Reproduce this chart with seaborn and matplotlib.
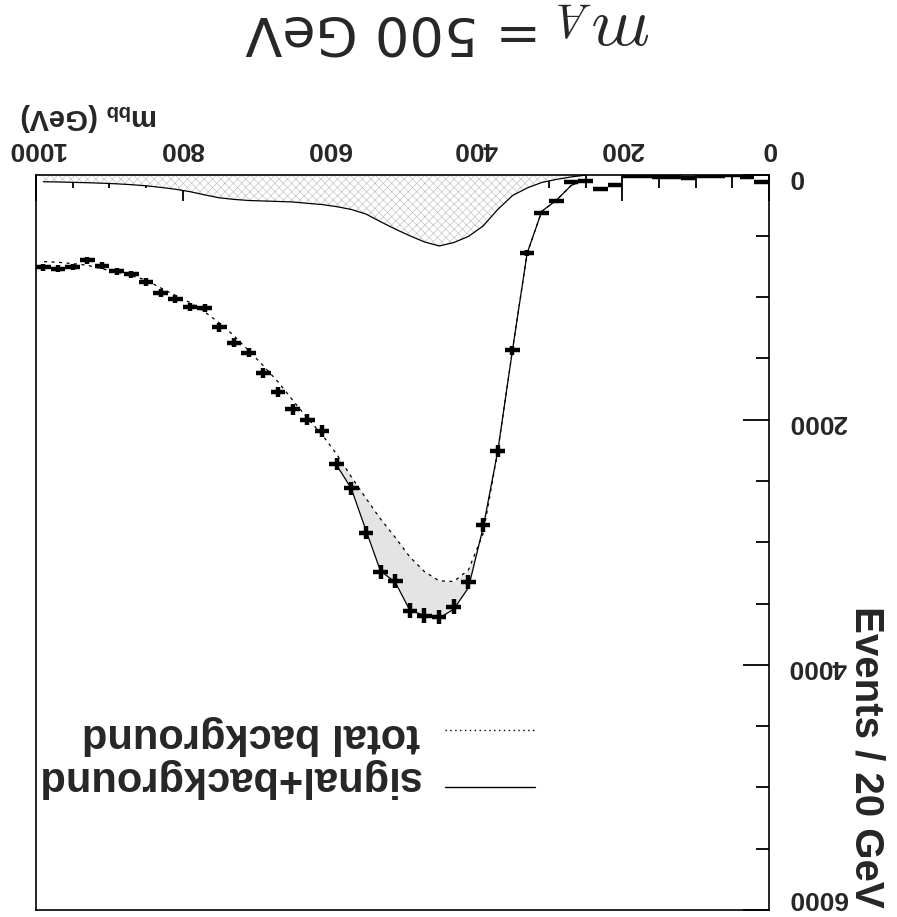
import numpy as np
import pandas as pd
import matplotlib
matplotlib.use("Agg")
import matplotlib.pyplot as plt
import seaborn as sns
from matplotlib.ticker import MultipleLocator
from matplotlib.lines import Line2D

# ---------------- data ----------------
bin_centers = list(range(10, 1000, 20))  # m_bb bin centres (GeV), 20 GeV bins
events = [65, 18, 8, 10, 12, 30, 20, 22, 15, 15,
          88, 118, 50, 62, 219, 314, 643, 1434, 2255, 2859,
          3324, 3525, 3609, 3599, 3558, 3318, 3240, 2922, 2561, 2363,
          2092, 2001, 1915, 1774, 1617, 1454, 1372, 1248, 1091, 1083,
          1013, 966, 877, 812, 790, 744, 700, 754, 768, 757]

curve_mass = list(range(250, 1000, 20))
total_background = [40, 90, 210, 300, 643, 1434, 2255, 2930, 3225, 3320,
                    3315, 3240, 3120, 2960, 2810, 2640, 2465, 2280, 2120, 1985,
                    1840, 1690, 1560, 1435, 1315, 1210, 1120, 1045, 985, 925,
                    860, 825, 795, 770, 740, 727, 716, 711]
signal = [5, 20, 40, 65, 110, 172, 285, 420, 505, 555,
          583, 550, 500, 445, 385, 322, 285, 262, 245, 235,
          224, 220, 216, 212, 203, 190, 166, 140, 120, 105,
          92, 83, 76, 71, 67, 64, 61, 59]
sb_mass = list(range(250, 600, 20))
signal_plus_background = [40, 90, 210, 300, 643, 1434, 2255, 2880, 3370, 3545,
                          3620, 3597, 3555, 3325, 3235, 2900, 2560, 2370]

x_major_ticks = [0, 200, 400, 600, 800, 1000]
y_major_ticks = [0, 2000, 4000, 6000]
title_math = r"$m_A$"
title_rest = "= 500 GeV"
x_label = r"m$_{\mathbf{bb}}$ (GeV)"
y_label = "Events / 20 GeV"
legend_labels = ["total background", "signal+background"]

# ---------------- style ----------------
sns.set_theme(style="white")
plt.rcParams["font.family"] = ["Liberation Sans", "DejaVu Sans"]
plt.rcParams["font.weight"] = "bold"
plt.rcParams["mathtext.fontset"] = "custom"
plt.rcParams["mathtext.rm"] = "Liberation Sans:bold"
plt.rcParams["mathtext.bf"] = "Liberation Sans:bold"
plt.rcParams["mathtext.it"] = "Liberation Sans:bold"
plt.rcParams["hatch.linewidth"] = 0.5

W, H = 897, 917
fig = plt.figure(figsize=(W / 100, H / 100), dpi=100)
L, R, T, B = 36, 769, 174.5, 910
ax = fig.add_axes([L / W, 1 - B / H, (R - L) / W, (B - T) / H])

def fx(px):
    return px / W

def fy(py):
    return 1 - py / H

df = pd.DataFrame({"m": curve_mass, "bkg": total_background, "sig": signal})
df_sb = pd.DataFrame({"m": sb_mass, "sb": signal_plus_background,
                      "bkg": total_background[:len(sb_mass)]})

# signal (hatched)
ax.fill_between(df["m"], 0, df["sig"], facecolor="white", edgecolor="#c4c4c4",
                hatch="xxxx", linewidth=0, zorder=1)
sns.lineplot(data=df, x="m", y="sig", ax=ax, color="black", lw=0.9, zorder=2)

# grey area between total background and signal+background
ax.fill_between(df_sb["m"], df_sb["bkg"], df_sb["sb"], color="#e4e4e4",
                linewidth=0, zorder=1)
sns.lineplot(data=df, x="m", y="bkg", ax=ax, color="black", lw=0.9,
             linestyle=(0, (2.5, 3.5)), zorder=3)
sns.lineplot(data=df_sb, x="m", y="sb", ax=ax, color="black", lw=0.9, zorder=3)

# data points
ev = np.array(events, dtype=float)
ax.errorbar(bin_centers, ev, xerr=10, yerr=np.sqrt(ev), fmt="none",
            ecolor="black", elinewidth=3.2, capsize=0, zorder=5)

# axes
ax.set_xlim(1000, 0)
ax.set_ylim(6000, 0)
ax.set_xlabel("")
ax.set_ylabel("")
ax.xaxis.tick_top()
ax.yaxis.tick_right()
ax.set_xticks(x_major_ticks, labels=[str(t) for t in x_major_ticks],
              rotation=180, fontweight="bold", fontsize=19)
ax.set_yticks(y_major_ticks, labels=[str(t) for t in y_major_ticks],
              rotation=180, fontweight="bold", fontsize=19)
ax.xaxis.set_minor_locator(MultipleLocator(50))
ax.yaxis.set_minor_locator(MultipleLocator(500))
ax.tick_params(which="major", direction="in", length=19, width=1.3, color="black")
ax.tick_params(which="minor", direction="in", length=9.5, width=1.3, color="black")
ax.tick_params(axis="x", which="both", top=True, bottom=False, labeltop=True,
               labelbottom=False, pad=10)
ax.tick_params(axis="y", which="both", right=True, left=False, labelright=True,
               labelleft=False, pad=14)
for s in ax.spines.values():
    s.set_color("black")
    s.set_linewidth(1.2)

# texts (rotated 180 degrees as in the reference)
fig.text(fx(541), fy(31), title_rest, rotation=180, ha="right", va="center",
         fontsize=39, fontweight="normal", family="DejaVu Sans")
fig.text(fx(557), fy(31), title_math, rotation=180, ha="left", va="center",
         fontsize=48, math_fontfamily="cm")
fig.text(fx(20), fy(117), x_label, rotation=180, ha="left", va="center",
         fontsize=21, fontweight="bold")
fig.text(fx(866), fy(908), y_label, rotation=270, ha="center", va="bottom",
         fontsize=29, fontweight="bold")

# legend (manual, rotated)
fig.text(fx(420), fy(735), legend_labels[0], rotation=180, ha="right", va="center",
         fontsize=30, fontweight="bold")
fig.text(fx(420), fy(778), legend_labels[1], rotation=180, ha="right", va="center",
         fontsize=30, fontweight="bold")
fig.add_artist(Line2D([fx(445), fx(535)], [fy(730), fy(730)], color="black", lw=1,
                      linestyle=(0, (1, 2.5)), transform=fig.transFigure))
fig.add_artist(Line2D([fx(445), fx(535)], [fy(787), fy(787)], color="black", lw=1,
                      transform=fig.transFigure))

fig.canvas.draw()
ylabs = ax.get_yticklabels()
ylabs[-1].set_va("bottom")
fig.savefig("out.png", dpi=100)
